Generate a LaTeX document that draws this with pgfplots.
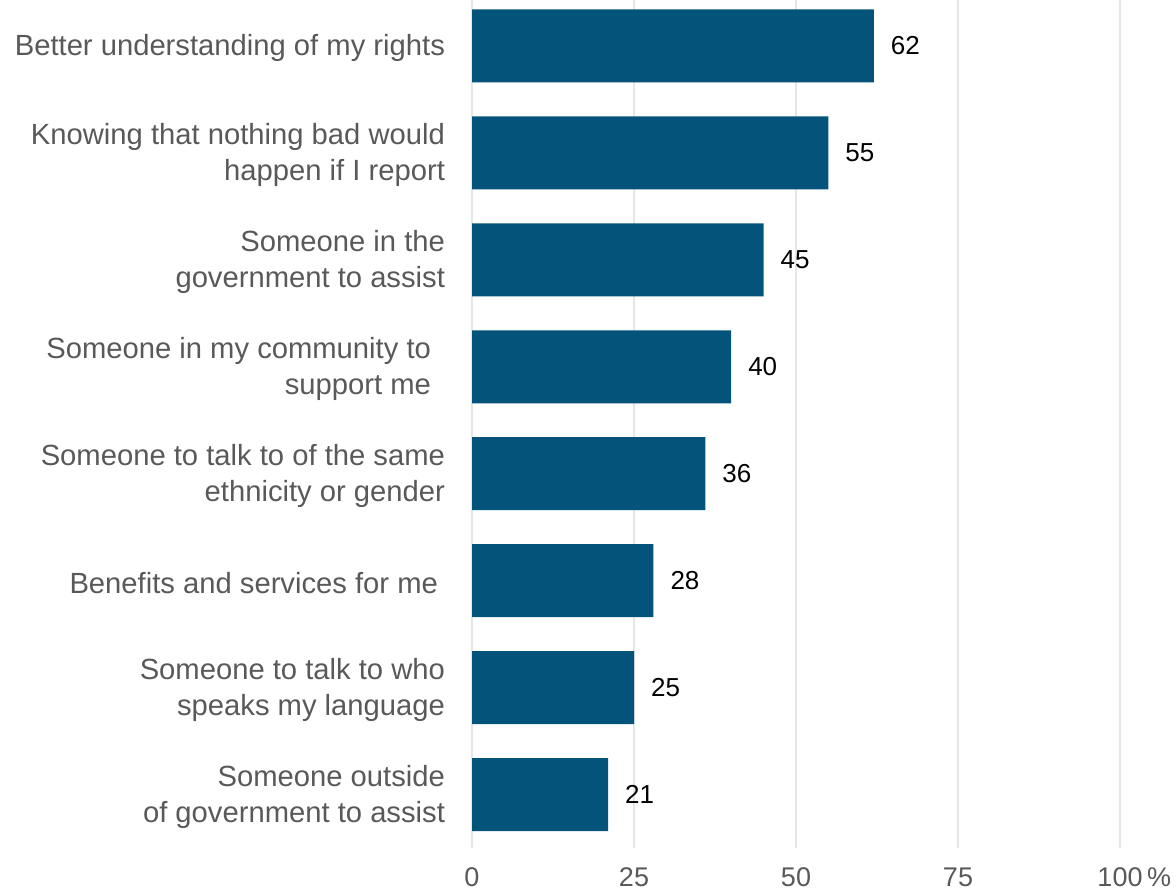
\documentclass[border=0pt]{standalone}
\usepackage{pgfplots}
\pgfplotsset{compat=1.18}
\usepackage{fontspec}
\setmainfont{Liberation Sans}
\definecolor{barblue}{HTML}{04537A}
\definecolor{gridgray}{HTML}{E6E6E6}
\definecolor{labgray}{HTML}{595959}
\begin{document}
\begin{tikzpicture}
\useasboundingbox (0,0) rectangle (588pt,447pt);
\begin{axis}[
  at={(236pt,23pt)}, anchor=south west,
  scale only axis, width=324pt, height=424pt,
  xbar, bar width=36.5pt,
  xmin=0, xmax=100,
  ymin=-0.43, ymax=7.5, y dir=reverse,
  axis line style={draw=none},
  xmajorgrids, grid style={gridgray, line width=1.2pt},
  xtick={0,25,50,75,100},
  xticklabels={0,25,50,75,100\rlap{\,\%}},
  ytick={0,...,7},
  yticklabels={
    {Better understanding of my rights},
    {Knowing that nothing bad would\\happen if I report},
    {Someone in the\\government to assist},
    {Someone in my community to\hspace*{7pt}\\support me\hspace*{7pt}},
    {Someone to talk to of the same\\ethnicity or gender},
    {Benefits and services for me\hspace*{3.5pt}},
    {Someone to talk to who\\speaks my language},
    {Someone outside\\of government to assist}},
  major tick length=0pt,
  tick label style={font=\fontsize{13.5}{18}\selectfont, text=labgray},
  yticklabel style={align=right, xshift=-10pt, yshift=-1pt, font=\fontsize{14.6}{18}\selectfont},
  xticklabel style={yshift=-6.5pt},
  /pgf/number format/assume math mode=true,
  nodes near coords,
  nodes near coords style={anchor=west, xshift=5pt, font=\fontsize{13}{15}\selectfont, text=black},
]
\addplot[fill=barblue, draw=none] coordinates {
(62,0) (55,1) (45,2) (40,3) (36,4) (28,5) (25,6) (21,7)
};
\end{axis}
\end{tikzpicture}
\end{document}
